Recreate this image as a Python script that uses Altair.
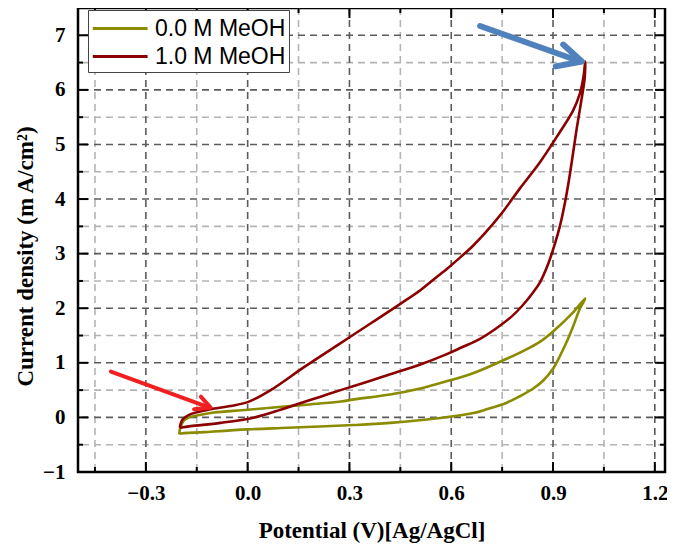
import altair as alt
import pandas as pd

# Tick and grid positions
x_major = [-0.3, 0.0, 0.3, 0.6, 0.9, 1.2]
x_minor = [-0.45, -0.15, 0.15, 0.45, 0.75, 1.05]
y_labels = [-1, 0, 1, 2, 3, 4, 5, 6, 7]
y_major = [0, 1, 2, 3, 4, 5, 6, 7]
y_minor = [-0.5, 0.5, 1.5, 2.5, 3.5, 4.5, 5.5, 6.5]

series = ['0.0 M MeOH', '1.0 M MeOH']
colors = ['#8B8B00', '#8B0000']

# CV loops: potential (V) vs current density (mA/cm2)
meoh0_x = [-0.202, -0.198, -0.188, -0.177, -0.138, -0.10, 0.0, 0.166, 0.274, 0.313,
           0.42, 0.509, 0.568, 0.66, 0.744, 0.813, 0.86, 0.901, 0.96, 0.995,
           0.979, 0.96, 0.94, 0.92, 0.901, 0.872, 0.842, 0.80, 0.764, 0.70,
           0.666, 0.568, 0.42, 0.313, 0.117, 0.0, -0.128, -0.20, -0.202]
meoh0_y = [-0.31, -0.18, -0.06, -0.01, 0.05, 0.09, 0.14, 0.23, 0.29, 0.33,
           0.42, 0.53, 0.63, 0.80, 1.02, 1.22, 1.38, 1.58, 1.93, 2.18,
           1.99, 1.68, 1.38, 1.12, 0.90, 0.68, 0.53, 0.38, 0.27, 0.14,
           0.08, -0.01, -0.10, -0.14, -0.19, -0.22, -0.27, -0.30, -0.31]

meoh1_x = [-0.20, -0.192, -0.168, -0.14, -0.109, -0.05, 0.0, 0.068, 0.166, 0.264,
           0.362, 0.45, 0.509, 0.547, 0.587, 0.63, 0.665, 0.70, 0.75, 0.803,
           0.862, 0.911, 0.959, 0.979, 0.99, 0.995,
           0.993, 0.982, 0.970, 0.959, 0.947, 0.935, 0.92, 0.904, 0.885, 0.862,
           0.84, 0.81, 0.78, 0.73, 0.685, 0.63, 0.587, 0.509, 0.42, 0.362,
           0.274, 0.215, 0.15, 0.097, 0.02, -0.08, -0.168, -0.20]
meoh1_y = [-0.19, -0.04, 0.06, 0.11, 0.15, 0.21, 0.28, 0.50, 0.92, 1.32,
           1.72, 2.08, 2.33, 2.52, 2.72, 2.95, 3.15, 3.38, 3.75, 4.20,
           4.68, 5.14, 5.62, 5.93, 6.25, 6.52,
           6.20, 5.75, 5.30, 4.84, 4.35, 3.93, 3.50, 3.15, 2.80, 2.48,
           2.28, 2.05, 1.86, 1.62, 1.44, 1.28, 1.16, 0.97, 0.79, 0.67,
           0.50, 0.38, 0.25, 0.14, 0.0, -0.10, -0.16, -0.19]

# Annotation arrows (shaft tail -> tip, head: barb, tip, barb)
blue_shaft_x = [0.685, 0.98]
blue_shaft_y = [7.17, 6.52]
blue_head_x = [0.930, 0.985, 0.908]
blue_head_y = [6.83, 6.52, 6.43]
red_shaft_x = [-0.403, -0.112]
red_shaft_y = [0.84, 0.18]
red_head_x = [-0.138, -0.109, -0.158]
red_head_y = [0.38, 0.18, 0.15]

W, H = 587, 464
serif = 'Liberation Serif'

curves = pd.concat([
    pd.DataFrame({'x': meoh0_x, 'y': meoh0_y, 'series': series[0], 'i': range(len(meoh0_x))}),
    pd.DataFrame({'x': meoh1_x, 'y': meoh1_y, 'series': series[1], 'i': range(len(meoh1_x))}),
], ignore_index=True)

xs = alt.Scale(domain=[-0.5, 1.23], nice=False, zero=False)
ys = alt.Scale(domain=[-1, 7.5], nice=False, zero=False)

vx = alt.X('v:Q', scale=xs, axis=None)
vy = alt.Y('v:Q', scale=ys, axis=None)

# ── invisible layer that carries the axes ──
axes_layer = alt.Chart(curves).mark_line(opacity=0).encode(
    x=alt.X('x:Q', scale=xs, axis=alt.Axis(
        values=x_major, format='.1f', ticks=False, domain=False, grid=False,
        labelFont=serif, labelFontWeight='bold', labelFontSize=21, labelColor='black',
        labelPadding=10,
        title='Potential (V)[Ag/AgCl]', titleFont=serif, titleFontWeight='bold',
        titleFontSize=23, titleColor='black', titleBaseline='middle', titleY=58)),
    y=alt.Y('y:Q', scale=ys, axis=alt.Axis(
        values=y_labels, format='d', ticks=False, domain=False, grid=False,
        labelFont=serif, labelFontWeight='bold', labelFontSize=21, labelColor='black',
        labelPadding=13,
        title='Current density (m A/cm²)', titleFont=serif, titleFontWeight='bold',
        titleFontSize=23, titleColor='black', titleX=-53, titleY=248,
        titleAlign='center', titleBaseline='middle')),
    detail='series:N',
    order=alt.Order('i:Q'),
)


# ── grid ──
def grid(vals, channel, color):
    base = alt.Chart(pd.DataFrame({'v': vals})).mark_rule(
        color=color, strokeWidth=1.6, strokeDash=[7, 5])
    if channel == 'x':
        return base.encode(x=vx)
    return base.encode(y=vy)


grid_layers = [
    grid(x_minor, 'x', '#b4b4b4'),
    grid(y_minor, 'y', '#b4b4b4'),
    grid(x_major, 'x', '#5c5c5c'),
    grid(y_major, 'y', '#5c5c5c'),
]


# ── inward ticks on all four sides ──
def ticks(vals, channel, length):
    base = alt.Chart(pd.DataFrame({'v': vals})).mark_rule(color='black', strokeWidth=2)
    if channel == 'x':
        return [base.encode(x=vx, y=alt.value(H), y2=alt.value(H - length)),
                base.encode(x=vx, y=alt.value(0), y2=alt.value(length))]
    return [base.encode(y=vy, x=alt.value(0), x2=alt.value(length)),
            base.encode(y=vy, x=alt.value(W), x2=alt.value(W - length))]


tick_layers = (ticks(x_major, 'x', 10) + ticks(x_minor, 'x', 5)
               + ticks(y_major, 'y', 10) + ticks(y_minor, 'y', 5))

# ── curves ──
lines = alt.Chart(curves).mark_line(strokeWidth=2.6, interpolate='catmull-rom').encode(
    x=alt.X('x:Q', scale=xs, axis=None),
    y=alt.Y('y:Q', scale=ys, axis=None),
    color=alt.Color('series:N', scale=alt.Scale(domain=series, range=colors),
                    legend=alt.Legend(
                        title=None, orient='none', legendX=10, legendY=2,
                        symbolType='M-1,0H3', symbolSize=750, symbolStrokeWidth=3,
                        labelFont='Liberation Sans', labelFontSize=23, labelColor='black',
                        labelOffset=33, rowPadding=-7, padding=3,
                        strokeColor='#444444', fillColor='white')),
    order=alt.Order('i:Q'),
)


# ── arrows ──
def arrow(sx, sy, hx, hy, color, width):
    df = pd.concat([
        pd.DataFrame({'x': sx, 'y': sy, 'part': 'shaft', 'i': range(len(sx))}),
        pd.DataFrame({'x': hx, 'y': hy, 'part': 'head', 'i': range(len(hx))}),
    ], ignore_index=True)
    return alt.Chart(df).mark_line(color=color, strokeWidth=width, strokeCap='round',
                                   strokeJoin='round').encode(
        x=alt.X('x:Q', scale=xs, axis=None),
        y=alt.Y('y:Q', scale=ys, axis=None),
        detail='part:N',
        order=alt.Order('i:Q'),
    )


arrows = [arrow(blue_shaft_x, blue_shaft_y, blue_head_x, blue_head_y, '#4F81BD', 6),
          arrow(red_shaft_x, red_shaft_y, red_head_x, red_head_y, '#F02020', 4)]

chart = alt.layer(axes_layer, *grid_layers, *tick_layers, lines, *arrows).resolve_axis(
    x='independent', y='independent'
).properties(
    width=W,
    height=H,
    autosize=alt.AutoSizeParams(type='none'),
    padding={'left': 70, 'top': 0, 'right': 2, 'bottom': 75},
).configure_view(
    stroke='black', strokeWidth=2.5
)

chart.save('out.html', embed_options={'renderer': 'svg', 'actions': False})
